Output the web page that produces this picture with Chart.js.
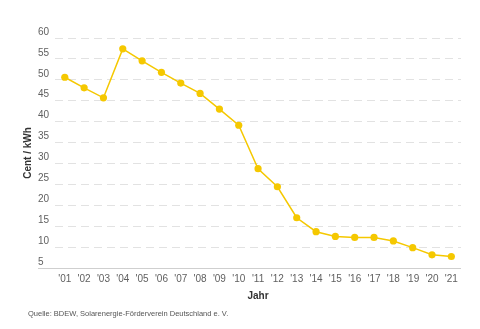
<!DOCTYPE html>
<html>
<head>
<meta charset="utf-8">
<script src="https://cdn.jsdelivr.net/npm/chart.js@4/dist/chart.umd.min.js"></script>
<style>
html,body{margin:0;padding:0;background:#fff;}
#wrap{width:480px;height:329px;position:relative;}
</style>
</head>
<body>
<div id="wrap"><canvas id="c" width="480" height="329"></canvas></div>
<script>
const years = ["'01","'02","'03","'04","'05","'06","'07","'08","'09","'10","'11","'12","'13","'14","'15","'16","'17","'18","'19","'20","'21"];
const centPerKWh = [50.62,48.09,45.7,57.4,54.53,51.8,49.21,46.75,43.01,39.14,28.74,24.43,17.02,13.68,12.56,12.31,12.3,11.47,9.87,8.16,7.75];
const yMin = 5, yMax = 60, yStep = 5;
const yTitle = "Cent / kWh";
const xTitle = "Jahr";
const sourceText = "Quelle: BDEW, Solarenergie-Förderverein Deutschland e. V.";

const FONT = "'Liberation Sans', Arial, Helvetica, sans-serif";
const YELLOW = '#f5c800';

const baseLine = {
  id: 'baseLine',
  beforeDatasetsDraw(chart) {
    const y = chart.scales.y;
    const py = Math.round(y.getPixelForValue(yMin)) + 0.5;
    const ctx = chart.ctx;
    ctx.save();
    ctx.strokeStyle = '#cfcfcf';
    ctx.lineWidth = 1;
    ctx.beginPath();
    ctx.moveTo(y.left, py);
    ctx.lineTo(chart.chartArea.right, py);
    ctx.stroke();
    ctx.restore();
  }
};

new Chart(document.getElementById('c'), {
  type: 'line',
  data: {
    labels: years,
    datasets: [{
      data: centPerKWh,
      borderColor: YELLOW,
      backgroundColor: YELLOW,
      borderWidth: 1.5,
      pointRadius: 3.6,
      pointBorderWidth: 0,
      pointBackgroundColor: YELLOW,
      tension: 0,
      fill: false
    }]
  },
  options: {
    responsive: false,
    animation: false,
    devicePixelRatio: 1,
    layout: { padding: { left: 28, right: 19, top: 38, bottom: 11 } },
    plugins: {
      legend: { display: false },
      tooltip: { enabled: false },
      title: {
        display: true,
        text: yTitle,
        position: 'left',
        fullSize: false,
        color: '#333',
        font: { family: FONT, size: 10, weight: 'bold' },
        padding: { top: -6, bottom: 4 }
      },
      subtitle: {
        display: true,
        text: sourceText,
        position: 'bottom',
        align: 'start',
        color: '#555',
        font: { family: FONT, size: 7.5 },
        padding: { top: 4, bottom: 0 }
      }
    },
    scales: {
      x: {
        offset: true,
        grid: { display: false, drawTicks: false },
        border: { display: false },
        ticks: {
          color: '#5f5f5f',
          font: { family: FONT, size: 10 },
          padding: 5,
          maxRotation: 0,
          autoSkip: false
        },
        title: {
          display: true,
          text: xTitle,
          color: '#333',
          font: { family: FONT, size: 10, weight: 'bold' },
          padding: { top: 0, bottom: 3 }
        }
      },
      y: {
        min: yMin,
        max: yMax,
        border: { display: false, dash: [8, 5] },
        grid: {
          drawTicks: false,
          color: (ctx) => (ctx.tick && ctx.tick.value === yMin) ? 'rgba(0,0,0,0)' : '#e2e2e2',
          lineWidth: 1
        },
        ticks: {
          stepSize: yStep,
          color: '#5f5f5f',
          font: { family: FONT, size: 10 },
          crossAlign: 'far',
          padding: 3,
          labelOffset: -6
        }
      }
    }
  },
  plugins: [baseLine]
});
</script>
</body>
</html>
